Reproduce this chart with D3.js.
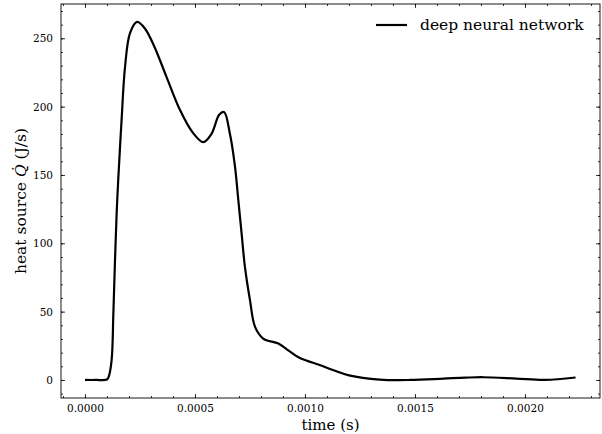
<!DOCTYPE html>
<html>
<head>
<meta charset="utf-8">
<script src="https://cdn.jsdelivr.net/npm/d3@7"></script>
<style>
  body { margin: 0; background: #fff; }
  text { font-family: "DejaVu Serif", serif; fill: #000; }
</style>
</head>
<body>
<script>
// values
const times = [0, 0.00005, 0.0001, 0.000108, 0.000121, 0.000129, 0.000136, 0.000144,
  0.000151, 0.000167, 0.000182, 0.000205, 0.000237, 0.000273, 0.000315, 0.00037, 0.000432,
  0.00049, 0.000538, 0.000575, 0.00061, 0.000632, 0.000659, 0.000682, 0.000697, 0.000712,
  0.000727, 0.00075, 0.000773, 0.00081, 0.000879, 0.000924, 0.000977, 0.00107, 0.00113,
  0.0012, 0.00134, 0.00148, 0.00163, 0.00173, 0.00181, 0.00196, 0.00209, 0.00223];
const heat = [0, 0, 0.3, 2.5, 14.4, 48.6, 85, 122,
  146, 192, 229, 254, 262, 257, 244, 222, 197.5,
  181, 174, 180, 194, 196, 180, 156, 131.6, 107,
  82.7, 58.4, 38.8, 30.3, 26.6, 21.7, 16, 10.8, 7.1,
  3.4, 0.3, 0, 1, 1.7, 2, 1, 0, 1.8];
const xTicks = [0, 0.0005, 0.001, 0.0015, 0.002];
const yTicks = [0, 50, 100, 150, 200, 250];
const seriesName = "deep neural network";

const width = 602, height = 434;
const margin = { top: 4, right: 2, bottom: 36, left: 61 };
const iw = width - margin.left - margin.right;
const ih = height - margin.top - margin.bottom;

const svg = d3.select("body").append("svg")
  .attr("width", width)
  .attr("height", height);

const g = svg.append("g")
  .attr("transform", `translate(${margin.left},${margin.top})`);

const x = d3.scaleLinear().domain([-0.000109, 0.002341]).range([0, iw]);
const y = d3.scaleLinear().domain([-13.2, 275.1]).range([ih, 0]);

const pts = times.map((t, i) => [t, heat[i]]);

// ticks pointing inwards on all four sides
let xMinor = d3.range(-0.0001, 0.00235, 0.0001).filter(v => x(v) >= 0 && x(v) <= iw);
let yMinor = d3.range(-10, 276, 10).filter(v => y(v) >= 0 && y(v) <= ih);

let addAxis = (axis, tr) => {
  let a = g.append("g").attr("transform", tr).call(axis);
  a.select(".domain").remove();
  a.selectAll("line").attr("stroke", "#000").attr("stroke-width", 0.8);
  return a;
};

let xb = addAxis(d3.axisBottom(x).tickValues(xTicks).tickSize(-4).tickPadding(7)
  .tickFormat(d3.format(".4f")), `translate(0,${ih})`);
xb.selectAll("text").attr("font-size", 10.5).style("font-family", "DejaVu Serif");
addAxis(d3.axisBottom(x).tickValues(xMinor).tickSize(-2).tickFormat(""), `translate(0,${ih})`);
addAxis(d3.axisTop(x).tickValues(xTicks).tickSize(-4).tickFormat(""), "translate(0,0)");
addAxis(d3.axisTop(x).tickValues(xMinor).tickSize(-2).tickFormat(""), "translate(0,0)");

let yl = addAxis(d3.axisLeft(y).tickValues(yTicks).tickSize(-4).tickPadding(8), "translate(0,0)");
yl.selectAll("text").attr("font-size", 10.5).style("font-family", "DejaVu Serif");
addAxis(d3.axisLeft(y).tickValues(yMinor).tickSize(-2).tickFormat(""), "translate(0,0)");
addAxis(d3.axisRight(y).tickValues(yTicks).tickSize(-4).tickFormat(""), `translate(${iw},0)`);
addAxis(d3.axisRight(y).tickValues(yMinor).tickSize(-2).tickFormat(""), `translate(${iw},0)`);

g.append("rect")
  .attr("width", iw)
  .attr("height", ih)
  .attr("fill", "none")
  .attr("stroke", "#000")
  .attr("stroke-width", 0.9);

g.append("path")
  .datum(pts)
  .attr("fill", "none")
  .attr("stroke", "#000")
  .attr("stroke-width", 2.2)
  .attr("stroke-linejoin", "round")
  .attr("d", d3.line().x(d => x(d[0])).y(d => y(d[1])).curve(d3.curveCatmullRom.alpha(0.5)));

// legend
let leg = g.append("g").attr("transform", `translate(${iw - 224},21)`);
leg.append("line").attr("x1", 0).attr("x2", 31).attr("stroke", "#000").attr("stroke-width", 2.2);
leg.append("text").attr("x", 44).attr("dy", "0.35em").attr("font-size", 15.5).text(seriesName);

// axis labels
svg.append("text")
  .attr("x", margin.left + iw / 2)
  .attr("y", height - 4)
  .attr("text-anchor", "middle")
  .attr("font-size", 15)
  .text("time (s)");

let ylab = svg.append("text")
  .attr("transform", `translate(26,${margin.top + ih / 2}) rotate(-90)`)
  .attr("text-anchor", "middle")
  .attr("font-size", 15.5);
ylab.append("tspan").text("heat source ");
ylab.append("tspan").attr("font-style", "italic").text("Q\u0307");
ylab.append("tspan").text(" (J/s)");
</script>
</body>
</html>
